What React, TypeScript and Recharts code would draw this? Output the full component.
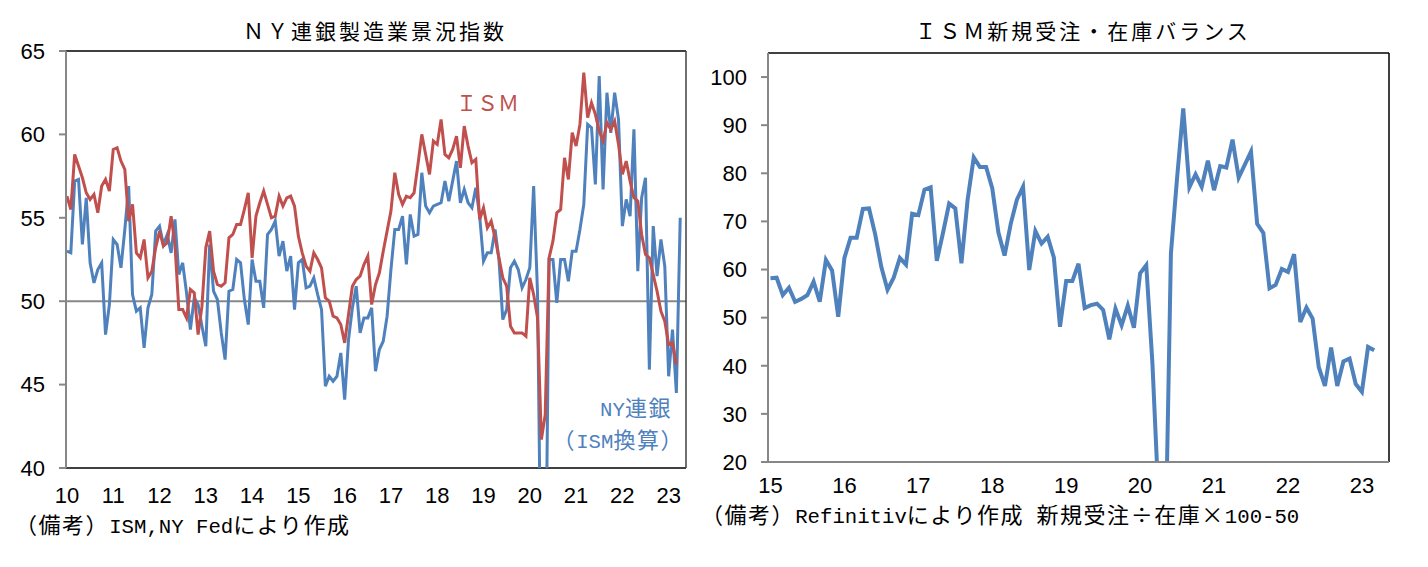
import { LineChart, Line, XAxis, YAxis, ReferenceLine } from "recharts";

// ISM manufacturing PMI, monthly from Jan 2010
const ismPmi = [
  56.3, 55.5, 58.8, 58.1, 57.4, 56.5, 56.1, 56.4, 55.3, 56.9, 57.3, 56.6,
  59.1, 59.2, 58.4, 57.9, 54.8, 55.8, 52.9, 52.6, 53.7, 51.4, 51.8, 53.2,
  54.2, 53.3, 53.5, 55.1, 53.4, 49.5, 49.5, 49.0, 50.7, 50.5, 48.0, 49.7,
  53.2, 54.2, 51.8, 51.0, 50.9, 51.1, 53.8, 54.0, 54.6, 54.6, 55.5, 56.5,
  52.6, 55.1, 55.9, 56.6, 55.8, 55.0, 55.1, 56.3, 55.7, 56.2, 56.3, 55.7,
  53.9, 52.9, 52.1, 51.8, 52.9, 52.5, 52.0, 50.2, 50.0, 49.1, 49.0, 48.6,
  47.5, 49.2, 50.9, 51.3, 51.5, 52.2, 52.7, 49.8, 51.0, 51.7, 53.0, 54.2,
  55.4, 57.7, 56.4, 55.8, 56.3, 56.2, 56.5, 58.2, 60.0, 58.8, 57.6, 59.6,
  59.4, 60.9, 58.8, 58.6, 59.1, 59.9, 58.0, 60.5, 59.3, 58.3, 58.5, 54.9,
  55.6, 54.4, 54.8, 53.8, 52.6, 51.4, 50.9, 48.5, 48.1, 48.1, 48.1, 47.9,
  51.4, 50.4, 49.0, 41.7, 43.2, 52.6, 53.6, 55.3, 55.5, 58.6, 57.3, 60.1,
  59.3, 60.6, 63.7, 61.0, 61.9, 61.2, 60.2, 59.6, 60.7, 60.3, 60.8, 59.4,
  57.6, 58.4, 57.2, 56.2, 56.0, 54.0, 52.8, 52.6, 51.6, 50.6, 49.4, 48.8,
  47.4, 47.5, 46.2,
];

// NY Fed Empire State index converted to the ISM scale, monthly from Jan 2010
const nyFedIsm = [
  53.0, 52.9, 57.2, 57.3, 53.4, 56.2, 52.3, 51.1, 51.9, 52.3, 48.0, 49.8,
  53.7, 53.4, 52.0, 54.3, 56.9, 50.4, 49.4, 49.6, 47.2, 49.6, 50.4, 54.2,
  54.5, 53.4, 54.0, 52.9, 54.9, 51.6, 52.3, 50.5, 48.3, 50.2, 49.8, 48.5,
  47.3, 53.4, 50.6, 50.1, 48.1, 46.5, 50.6, 50.7, 52.5, 52.3, 50.1, 48.6,
  52.5, 51.2, 51.2, 49.6, 54.0, 54.3, 54.8, 52.7, 53.6, 51.8, 52.7, 49.5,
  52.3, 52.5, 50.8, 50.9, 51.4, 50.4, 49.5, 44.9, 45.5, 45.2, 45.5, 46.9,
  44.1, 47.7, 49.6, 50.9, 48.1, 49.0, 49.0, 49.6, 45.8, 47.1, 47.6, 49.1,
  51.9, 54.3, 54.3, 55.1, 52.2, 55.2, 53.9, 54.0, 57.7, 55.7, 55.3, 55.7,
  55.8, 55.9, 57.2, 56.0, 57.2, 58.4, 55.9, 56.7, 55.9, 55.6, 56.8, 55.1,
  52.4, 52.9, 52.9, 54.3, 52.5, 48.9, 49.5, 52.0, 52.4, 51.9, 50.8, 51.3,
  52.0, 56.9, 50.5, 31.0, 30.0, 52.5, 52.5, 49.9, 52.5, 52.5, 51.2, 53.0,
  53.0, 54.3, 55.8, 60.6, 60.4, 57.0, 63.5, 56.7, 62.5, 60.1, 62.5, 60.9,
  54.5, 56.1, 55.1, 60.3, 51.8, 56.2, 57.4, 45.9, 54.5, 51.5, 53.7, 52.1,
  45.5, 48.3, 44.5, 55.0,
];

const nyYears = ["10", "11", "12", "13", "14", "15", "16", "17", "18", "19", "20", "21", "22", "23"];
const nyValueTicks = [40, 45, 50, 55, 60, 65];

// ISM new orders / inventories x 100 - 50, monthly from Jan 2015
const ordersBalance = [
  58.2, 58.3, 54.7, 56.2, 53.3, 53.9, 54.7, 57.5, 53.3, 62.0, 59.8, 50.2,
  62.4, 66.6, 66.6, 72.6, 72.7, 67.3, 60.5, 55.8, 58.3, 62.4, 61.0, 71.6,
  71.3, 76.6, 77.1, 61.8, 67.6, 73.7, 72.7, 61.3, 74.5, 83.3, 81.3, 81.3,
  76.9, 67.7, 62.9, 69.5, 74.5, 77.2, 59.9, 68.0, 65.4, 66.8, 62.5, 48.1,
  57.6, 57.6, 61.2, 52.0, 52.6, 52.9, 51.6, 45.5, 51.9, 48.4, 52.5, 47.9,
  59.2, 60.9, 40.5, 12.0, -6.0, 63.3, 79.0, 93.5, 77.1, 79.8, 77.2, 82.6,
  76.5, 81.5, 81.2, 87.0, 79.1, 81.8, 84.5, 69.5, 67.6, 56.1, 56.8, 60.1,
  59.5, 63.2, 49.1, 52.1, 49.8, 39.7, 35.8, 43.8, 35.8, 40.9, 41.5, 36.2,
  34.6, 43.9, 43.2,
];

const balanceYears = ["15", "16", "17", "18", "19", "20", "21", "22", "23"];
const balanceValueTicks = [20, 30, 40, 50, 60, 70, 80, 90, 100];

const RED = "#C0504D";
const BLUE = "#4F81BD";
const AXIS_GREY = "#878787";
const tickFont = "'Liberation Sans', Arial, sans-serif";
const cjkFont = "'Noto Sans CJK JP', sans-serif";
const monoFont = "'Liberation Mono', monospace";

const nyRows = nyFedIsm.map((ny, m) => ({
  m,
  ny,
  ism: m < ismPmi.length ? ismPmi[m] : null,
}));

const balanceRows = ordersBalance.map((v, m) => ({ m, v }));

const tickStyle = { fontSize: 22, fill: "#000", fontFamily: tickFont };

// CJK text with half-width latin runs, like the Excel gothic fonts
function Mixed({ parts, size }: { parts: [string, boolean][]; size: number }) {
  return (
    <>
      {parts.map(([t, latin], i) => (
        <span
          key={i}
          style={
            latin
              ? { display: "inline-block", lineHeight: 1, fontFamily: monoFont, fontSize: size * 0.94, whiteSpace: "pre" }
              : { display: "inline-block", lineHeight: 1, fontFamily: cjkFont, fontSize: size, letterSpacing: size * 0.07 }
          }
        >
          {t}
        </span>
      ))}
    </>
  );
}

function Abs({ left, top, width, align, children, style }: any) {
  return (
    <div
      style={{
        position: "absolute",
        left,
        top,
        width,
        textAlign: align ?? "left",
        whiteSpace: "nowrap",
        lineHeight: 1,
        ...style,
      }}
    >
      {children}
    </div>
  );
}

export default function App() {
  return (
    <div
      style={{
        position: "absolute",
        left: 0,
        top: 0,
        width: 1428,
        height: 567,
        background: "#fff",
        overflow: "hidden",
      }}
    >
      <div style={{ position: "absolute", left: 0, top: 0 }}>
        <LineChart
          width={700}
          height={567}
          data={nyRows}
          margin={{ top: 51, right: 14, bottom: 69, left: 6 }}
        >
          <XAxis
            dataKey="m"
            type="number"
            domain={[-0.25, 160.5]}
            allowDataOverflow
            ticks={nyYears.map((_, i) => i * 12)}
            tickFormatter={(v: number) => nyYears[Math.round(v / 12)]}
            interval={0}
            axisLine={false}
            tickLine={false}
            tickMargin={13}
            height={30}
            tick={tickStyle}
          />
          <YAxis
            domain={[40, 65]}
            allowDataOverflow
            ticks={nyValueTicks}
            interval={0}
            width={60}
            tickSize={7}
            tickMargin={14}
            axisLine={{ stroke: AXIS_GREY, strokeWidth: 2 }}
            tickLine={{ stroke: AXIS_GREY, strokeWidth: 2 }}
            tick={tickStyle}
          />
          <ReferenceLine y={50} stroke={AXIS_GREY} strokeWidth={2} />
          <ReferenceLine y={65} stroke="#000" strokeWidth={1.5} />
          <ReferenceLine y={40} stroke="#000" strokeWidth={1.5} />
          <ReferenceLine x={160.5} stroke="#404040" strokeWidth={1.5} />
          <Line
            dataKey="ny"
            type="linear"
            stroke={BLUE}
            strokeWidth={3}
            dot={false}
            isAnimationActive={false}
          />
          <Line
            dataKey="ism"
            type="linear"
            stroke={RED}
            strokeWidth={3}
            dot={false}
            isAnimationActive={false}
          />
        </LineChart>
      </div>

      <div style={{ position: "absolute", left: 700, top: 0 }}>
        <LineChart
          width={728}
          height={567}
          data={balanceRows}
          margin={{ top: 53, right: 39, bottom: 75, left: 8 }}
        >
          <XAxis
            dataKey="m"
            type="number"
            domain={[-0.4, 100.4]}
            allowDataOverflow
            ticks={balanceYears.map((_, i) => i * 12)}
            tickFormatter={(v: number) => balanceYears[Math.round(v / 12)]}
            interval={0}
            axisLine={{ stroke: AXIS_GREY, strokeWidth: 2 }}
            tickLine={false}
            tickMargin={9}
            height={30}
            tick={tickStyle}
          />
          <YAxis
            domain={[20, 105]}
            allowDataOverflow
            ticks={balanceValueTicks}
            interval={0}
            width={60}
            tickSize={7}
            tickMargin={14}
            axisLine={{ stroke: AXIS_GREY, strokeWidth: 2 }}
            tickLine={{ stroke: AXIS_GREY, strokeWidth: 2 }}
            tick={tickStyle}
          />
          <ReferenceLine y={105} stroke="#000" strokeWidth={1.5} />
          <ReferenceLine x={100.4} stroke="#000" strokeWidth={1.5} />
          <Line
            dataKey="v"
            type="linear"
            stroke={BLUE}
            strokeWidth={4}
            dot={false}
            isAnimationActive={false}
          />
        </LineChart>
      </div>

      {/* titles */}
      <Abs left={240} top={20} width={270} align="center" style={{ fontFamily: cjkFont, fontSize: 21, letterSpacing: 3 }}>
        ＮＹ連銀製造業景況指数
      </Abs>
      <Abs left={910} top={20} width={346} align="center" style={{ fontFamily: cjkFont, fontSize: 21, letterSpacing: 3 }}>
        ＩＳＭ新規受注・在庫バランス
      </Abs>

      {/* series labels */}
      <Abs left={456} top={92} style={{ fontFamily: cjkFont, fontSize: 21, color: RED }}>
        ＩＳＭ
      </Abs>
      <Abs left={520} top={395} width={152} align="right" style={{ color: BLUE }}>
        <Mixed size={22} parts={[["NY", true], ["連銀", false]]} />
      </Abs>
      <Abs left={526} top={427} width={158} align="right" style={{ color: BLUE }}>
        <Mixed size={22} parts={[["（", false], ["ISM", true], ["換算）", false]]} />
      </Abs>

      {/* source notes */}
      <Abs left={15} top={512} style={{ color: "#000" }}>
        <Mixed
          size={22}
          parts={[
            ["（備考）", false],
            ["ISM,NY Fed", true],
            ["により作成", false],
          ]}
        />
      </Abs>
      <Abs left={701} top={502} style={{ color: "#000" }}>
        <Mixed
          size={22}
          parts={[
            ["（備考）", false],
            ["Refinitiv", true],
            ["により作成", false],
            [" ", true],
            ["新規受注÷在庫×", false],
            ["100-50", true],
          ]}
        />
      </Abs>
    </div>
  );
}
